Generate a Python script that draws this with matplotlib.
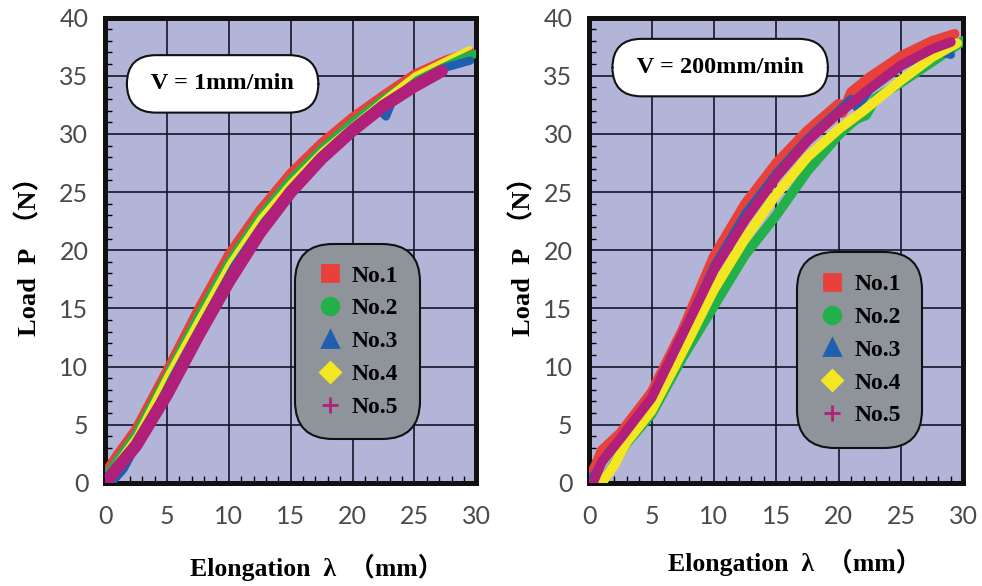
import matplotlib
matplotlib.use("Agg")
import matplotlib.pyplot as plt
from matplotlib.lines import Line2D
from matplotlib.ticker import MultipleLocator

plt.rcParams["font.family"] = ["Lato", "DejaVu Sans"]

serif = ["Liberation Serif", "Noto Sans CJK JP"]

names = ["No.1", "No.2", "No.3", "No.4", "No.5"]
colors = ["#e8403a", "#22b04b", "#1f5fb0", "#f5e622", "#b0207a"]
markers = ["s", "o", "^", "D", "+"]

# V = 1 mm/min
left_x = [
    [0, 1, 2.5, 5, 7.5, 10, 12.5, 15, 17.5, 20, 22.5, 25, 27.5, 29.5],
    [0, 1, 2.5, 5, 7.5, 10, 12.5, 15, 17.5, 20, 22.5, 25, 27.5, 30],
    [0.5, 1.5, 2.5, 5, 7.5, 10, 12.5, 15, 17.5, 20, 22, 22.7, 23.2, 25, 27.5, 29.5],
    [0, 1, 2.5, 5, 7.5, 10, 12.5, 15, 17.5, 20, 22.5, 25, 27.5, 29.5],
    [0, 1, 2.5, 5, 7.5, 10, 12.5, 15, 17.5, 20, 22.5, 25, 27.2],
]
left_y = [
    [0.8, 2.4, 4.6, 9.6, 14.8, 19.6, 23.4, 26.6, 29.2, 31.4, 33.3, 35.1, 36.3, 37.0],
    [0.5, 2.0, 4.2, 9.2, 14.3, 19.0, 22.9, 26.1, 28.7, 31.0, 33.0, 34.8, 36.1, 36.9],
    [0, 1.2, 3.2, 8.0, 13.2, 18.0, 22.2, 25.5, 28.2, 30.5, 32.2, 31.5, 32.8, 34.3, 35.7, 36.3],
    [0.3, 1.9, 4.1, 9.3, 14.1, 18.9, 22.8, 25.9, 28.6, 30.8, 33.0, 35.1, 36.4, 37.4],
    [0, 1.3, 3.2, 7.6, 12.6, 17.3, 21.5, 25.0, 27.9, 30.3, 32.4, 34.1, 35.4],
]

# V = 200 mm/min
right_x = [
    [0, 0.5, 1, 2.5, 5, 7.5, 10, 12.5, 15, 17.5, 20, 20.3, 21, 22.5, 25, 27.5, 29.3],
    [1, 2, 3, 5, 7.5, 10, 12.5, 15, 17.5, 20, 21, 21.5, 22.2, 23, 25, 27.5, 30],
    [0, 0.7, 1.5, 2.5, 5, 7.5, 10, 12.5, 15, 17.5, 20, 21, 21.5, 22.5, 25, 27.5, 29],
    [1, 2, 3, 5, 7.5, 10, 12.5, 15, 17.5, 20, 22, 25, 27.5, 29.5],
    [0.3, 1, 2.5, 5, 7.5, 10, 12.5, 15, 17.5, 20, 21, 22.5, 25, 27.5, 29],
]
right_y = [
    [0.5, 1.5, 2.8, 4.3, 7.8, 13.2, 19.5, 24.0, 27.5, 30.3, 32.6, 31.8, 33.6, 34.9, 36.7, 38.0, 38.6],
    [0, 1.6, 3.4, 5.9, 10.8, 15.2, 19.6, 23.0, 26.8, 29.9, 30.9, 31.3, 31.6, 33.1, 34.4, 36.2, 38.0],
    [0, 1.2, 2.6, 3.8, 7.3, 12.8, 18.6, 23.1, 26.6, 29.6, 32.0, 33.0, 32.2, 33.8, 35.8, 37.2, 36.8],
    [0, 1.5, 3.5, 6.2, 11.3, 16.6, 21.0, 24.8, 28.0, 30.4, 32.0, 34.6, 36.6, 37.8],
    [0, 1.8, 3.8, 7.3, 12.8, 18.3, 22.6, 26.3, 29.4, 31.8, 32.6, 33.9, 35.9, 37.3, 37.9],
]

panels = [
    {"xs": left_x, "ys": left_y, "speed": " V = 1mm/min ", "box": (9.5, 34.3),
     "rect": [0.107, 0.176, 0.378, 0.794], "widths": [7, 6, 6, 3, 9],
     "legend": (0.50, 0.524), "ylab": -0.172, "xlab": (0.569, -0.152)},
    {"xs": right_x, "ys": right_y, "speed": " V = 200mm/min ", "box": (10.5, 35.7),
     "rect": [0.600, 0.176, 0.381, 0.794], "widths": [7, 7, 6, 7, 7],
     "legend": (0.544, 0.506), "ylab": -0.144, "xlab": (0.548, -0.142)},
]

fig = plt.figure(figsize=(9.82, 5.86), dpi=100)

for p in panels:
    ax = fig.add_axes(p["rect"])
    ax.set_facecolor("#b3b5d8")
    for i in range(5):
        ax.plot(p["xs"][i], p["ys"][i], color=colors[i], lw=p["widths"][i],
                solid_capstyle="round", solid_joinstyle="round", zorder=3 + i)
    ax.set_xlim(0, 30)
    ax.set_ylim(0, 40)
    ax.xaxis.set_major_locator(MultipleLocator(5))
    ax.yaxis.set_major_locator(MultipleLocator(5))
    ax.xaxis.set_minor_locator(MultipleLocator(1))
    ax.yaxis.set_minor_locator(MultipleLocator(1))
    ax.grid(True, which="major", color="#141428", lw=1.2, zorder=1)
    ax.set_axisbelow(True)
    ax.tick_params(which="major", length=0, labelsize=18, labelcolor="#4a4a4a")
    ax.tick_params(axis="y", which="major", pad=12)
    ax.tick_params(axis="x", which="major", pad=16)
    ax.tick_params(which="minor", direction="in", length=5, width=1,
                   top=False, right=False)
    for s in ax.spines.values():
        s.set_linewidth(3.6)
        s.set_color("#111111")

    ax.text(p["box"][0], p["box"][1], p["speed"], ha="center", va="center",
            family=serif, weight="bold", fontsize=17.5, zorder=10,
            bbox=dict(boxstyle="round,pad=0.75,rounding_size=1.2",
                      fc="white", ec="#111111", lw=1.5))

    handles = [Line2D([], [], ls="none", marker=markers[i], color=colors[i],
                      markersize=12 if i != 3 else 10, mew=2)
               for i in range(5)]
    leg = ax.legend(handles, names, loc="upper left", bbox_to_anchor=p["legend"],
                    prop={"family": serif, "weight": "bold", "size": 17},
                    handlelength=1.1, handletextpad=0.4, labelspacing=0.48,
                    borderpad=0.6, framealpha=1, fancybox=True)
    leg.get_frame().set_facecolor("#8e949a")
    leg.get_frame().set_edgecolor("#111111")
    leg.get_frame().set_linewidth(1.5)
    leg.get_frame().set_boxstyle("round,pad=0.3,rounding_size=1.6")
    leg.set_zorder(10)

    ax.set_ylabel("Load  P  （N）", family=serif, weight="bold", fontsize=19)
    ax.yaxis.set_label_coords(p["ylab"], 0.5)
    ax.set_xlabel("Elongation  λ  （mm）", family=serif, weight="bold", fontsize=18.5)
    ax.xaxis.set_label_coords(p["xlab"][0], p["xlab"][1])

fig.savefig("out.png", dpi=100)
